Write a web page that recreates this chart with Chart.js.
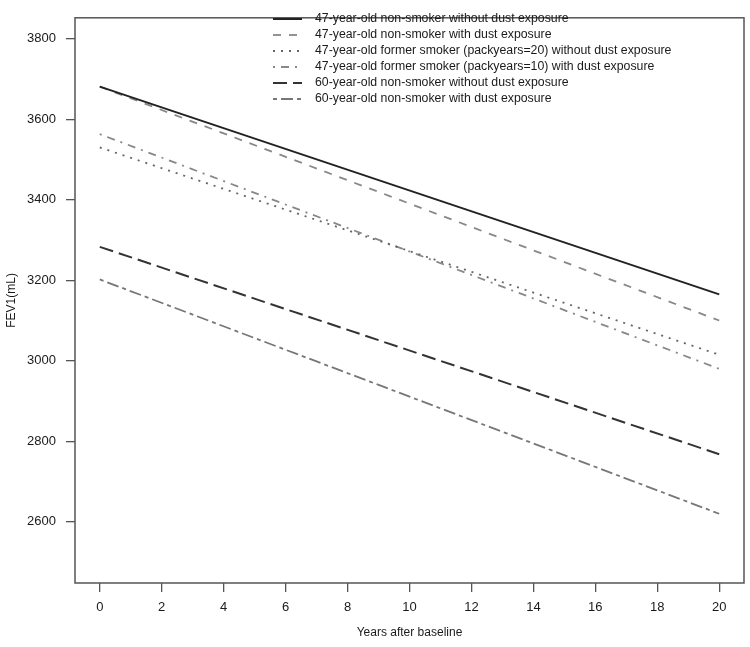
<!DOCTYPE html>
<html>
<head>
<meta charset="utf-8">
<script src="https://cdn.jsdelivr.net/npm/chart.js@4.4.1/dist/chart.umd.min.js"></script>
<style>
    html, body { margin: 0; padding: 0; background: #ffffff; }
    #wrap { width: 750px; height: 647px; }
</style>
</head>
<body>
<div id="wrap"><canvas id="chart" width="750" height="647"></canvas></div>
<script>
// years at which each fitted line is drawn
const years = [0, 20];

// FEV1 (mL), start and end of each line
const nonSmoker47 = [3681, 3165];
const nonSmoker47Dust = [3681, 3100];
const former47Pack20 = [3530, 3015];
const former47Pack10Dust = [3563, 2980];
const nonSmoker60 = [3283, 2768];
const nonSmoker60Dust = [3202, 2620];

const seriesLabels = [
    '47-year-old non-smoker without dust exposure',
    '47-year-old non-smoker with dust exposure',
    '47-year-old former smoker (packyears=20) without dust exposure',
    '47-year-old former smoker (packyears=10) with dust exposure',
    '60-year-old non-smoker without dust exposure',
    '60-year-old non-smoker with dust exposure'
];

const xTicks = [0, 2, 4, 6, 8, 10, 12, 14, 16, 18, 20];
const yTicks = [2600, 2800, 3000, 3200, 3400, 3600, 3800];

function pts(vals) {
    return years.map((x, i) => ({ x: x, y: vals[i] }));
}

function line(label, vals, color, dash, width) {
    return {
        label: label,
        data: pts(vals),
        borderColor: color,
        borderDash: dash,
        borderWidth: width,
        pointRadius: 0,
        fill: false,
        tension: 0
    };
}

// box around the plot + legend drawn inside, R style
const rPlot = {
    id: 'rPlot',
    afterDatasetsDraw(chart) {
        const ctx = chart.ctx;
        const a = chart.chartArea;
        ctx.save();
        ctx.strokeStyle = '#555';
        ctx.lineWidth = 1.5;
        ctx.setLineDash([]);
        ctx.strokeRect(a.left, a.top, a.right - a.left, a.bottom - a.top);

        ctx.font = '12.3px "Liberation Sans", Arial, sans-serif';
        ctx.textBaseline = 'middle';
        ctx.textAlign = 'left';
        chart.data.datasets.forEach((ds, i) => {
            const y = 19 + i * 16;
            ctx.strokeStyle = ds.borderColor;
            ctx.lineWidth = ds.borderWidth;
            ctx.setLineDash(ds.borderDash || []);
            ctx.beginPath();
            ctx.moveTo(273, y);
            ctx.lineTo(302, y);
            ctx.stroke();
            ctx.fillStyle = '#1a1a1a';
            ctx.fillText(ds.label, 315, y);
        });
        ctx.restore();
    }
};

const chart = new Chart(document.getElementById('chart').getContext('2d'), {
    type: 'line',
    data: {
        datasets: [
            line(seriesLabels[0], nonSmoker47, '#222222', [], 2),
            line(seriesLabels[1], nonSmoker47Dust, '#888888', [8, 8], 1.8),
            line(seriesLabels[2], former47Pack20, '#666666', [2, 6], 1.8),
            line(seriesLabels[3], former47Pack10Dust, '#888888', [2, 6, 8, 6], 1.8),
            line(seriesLabels[4], nonSmoker60, '#333333', [14, 6], 2),
            line(seriesLabels[5], nonSmoker60Dust, '#777777', [4, 4, 12, 4], 1.8)
        ]
    },
    options: {
        responsive: false,
        animation: false,
        layout: { padding: { top: 5, right: 6, left: 0, bottom: 0 } },
        plugins: {
            legend: { display: false },
            tooltip: { enabled: false }
        },
        scales: {
            x: {
                type: 'linear',
                min: -0.8,
                max: 20.8,
                afterBuildTicks: s => { s.ticks = xTicks.map(v => ({ value: v })); },
                afterFit: s => { s.height = 64; },
                border: { display: false },
                grid: { drawOnChartArea: false, drawTicks: true, tickLength: 9, color: '#555', lineWidth: 1.3 },
                ticks: {
                    maxRotation: 0,
                    autoSkip: false,
                    padding: 8,
                    color: '#1a1a1a',
                    callback: v => String(v),
                    font: { family: '"Liberation Sans", Arial, sans-serif', size: 13 }
                },
                title: {
                    display: true,
                    text: 'Years after baseline',
                    color: '#1a1a1a',
                    padding: { top: 0, bottom: 7 },
                    font: { family: '"Liberation Sans", Arial, sans-serif', size: 12 }
                }
            },
            y: {
                min: 2448,
                max: 3852,
                afterBuildTicks: s => { s.ticks = yTicks.map(v => ({ value: v })); },
                afterFit: s => { s.width = 75; },
                border: { display: false },
                grid: { drawOnChartArea: false, drawTicks: true, tickLength: 9, color: '#555', lineWidth: 1.3 },
                ticks: {
                    autoSkip: false,
                    padding: 10,
                    color: '#1a1a1a',
                    callback: v => String(v),
                    font: { family: '"Liberation Sans", Arial, sans-serif', size: 13 }
                },
                title: {
                    display: true,
                    text: 'FEV1(mL)',
                    color: '#1a1a1a',
                    padding: { top: 4, bottom: 0 },
                    font: { family: '"Liberation Sans", Arial, sans-serif', size: 12 }
                }
            }
        }
    },
    plugins: [rPlot]
});
</script>
</body>
</html>
